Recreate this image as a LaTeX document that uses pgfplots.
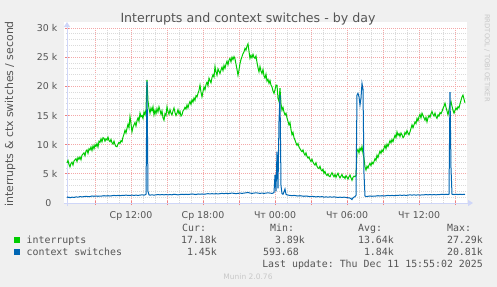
\documentclass[border=0pt]{standalone}
\usepackage{pgfplots}
\pgfplotsset{compat=1.18}
\usepackage{fontspec}
\setmainfont{DejaVu Sans}
\setmonofont{DejaVu Sans Mono}
\usetikzlibrary{arrows.meta}
\definecolor{bgc}{HTML}{F0F0F0}
\definecolor{fontc}{HTML}{555555}
\definecolor{axisc}{HTML}{CFD6F8}
\definecolor{mgrid}{HTML}{F4A8A8}
\definecolor{mtick}{HTML}{F08080}
\definecolor{gridc}{HTML}{DADADA}
\definecolor{cgreen}{HTML}{00CC00}
\definecolor{cblue}{HTML}{0066B3}
\definecolor{faint}{HTML}{C8C8C8}
\begin{document}
\begin{tikzpicture}
\fill[bgc] (0,0) rectangle (497bp,287bp);
\useasboundingbox (0,0) rectangle (497bp,287bp);
\fill[white] (64bp,83bp) rectangle (467bp,265bp);
\begin{axis}[
  at={(67bp,84bp)}, anchor=south west,
  scale only axis, width=400bp, height=175bp,
  xmin=67, xmax=467, ymin=0, ymax=30,
  axis x line=bottom, axis y line=left,
  x axis line style={draw=axisc, line width=1bp, -{Triangle[length=5bp,width=6bp]}, shorten >=-6bp, shorten <=-3bp},
  y axis line style={draw=axisc, line width=1bp, -{Triangle[length=5bp,width=6bp]}, shorten >=-6bp, shorten <=-3bp},
  xtick={95,131,...,455},
  xticklabels={,Ср 12:00,,Ср 18:00,,Чт 00:00,,Чт 06:00,,Чт 12:00,},
  minor x tick num=2,
  ytick={0,5,...,30},
  yticklabels={0\kern6bp,5 k,10 k,15 k,20 k,25 k,30 k},
  minor y tick num=4,
  grid=both,
  major grid style={draw=mgrid, dash pattern=on 1bp off 1bp, line width=0.7bp},
  minor grid style={draw=gridc, dash pattern=on 1bp off 1bp, line width=0.7bp},
  tick align=center, major tick length=4bp, minor tick length=2bp,
  major tick style={draw=mtick, line width=0.8bp},
  minor tick style={draw=gridc, line width=0.8bp},
  ticklabel style={font=\fontsize{9.4bp}{11bp}\selectfont, text=fontc, inner sep=0pt},
  xticklabel style={anchor=base, yshift=-13.5bp},
  yticklabel style={anchor=east, xshift=-7.5bp},
  scaled ticks=false,
  clip=false,
]
% interrupts (thousands per second), x = 5-minute pixel columns
\addplot[cgreen, line width=1bp] coordinates {
(67,6.9)(68,7.3)(69,6.6)(70,6.2)(71,6.8)(72,7.0)(73,6.5)(74,7.2)(75,7.4)(76,7.6)(77,7.1)(78,7.8)(79,7.5)(80,7.9)
(81,7.4)(82,8.2)(83,8.4)(84,8.6)(85,8.1)(86,8.9)(87,9.1)(88,8.5)(89,9.3)(90,9.1)(91,9.6)(92,9.0)(93,9.8)(94,9.3)(95,10.0)
(96,9.7)(97,10.2)(98,9.6)(99,10.6)(100,10.4)(101,11.0)(102,10.5)(103,11.2)(104,11.1)(105,10.6)(106,11.0)(107,10.8)
(108,11.3)(109,10.7)(110,10.5)(111,10.9)(112,10.3)(113,10.1)(114,10.6)(115,10.0)(116,9.7)(117,9.65)(118,10.1)(119,10.4)
(120,10.2)(121,10.7)(122,10.5)(123,11.3)(124,11.8)(125,12.5)(126,12.0)(127,12.8)(128,13.5)(129,12.9)(130,14.8)(131,13.6)
(132,12.2)(133,13.0)(134,13.4)(135,13.8)(136,13.2)(137,14.1)(138,14.6)(139,14.0)(140,15.4)(141,14.8)(142,15.0)(143,14.5)
(144,15.6)(145,15.1)(146,16.0)(147,21.1)(148,17.5)(149,16.2)(150,15.4)(151,16.3)(152,15.8)(153,16.5)(154,15.1)(155,15.9)
(156,15.3)(157,16.2)(158,15.6)(159,16.5)(160,15.9)(161,15.2)(162,15.8)(163,14.6)(164,14.2)(165,15.3)(166,15.0)(167,16.5)
(168,15.7)(169,15.2)(170,16.0)(171,15.4)(172,15.1)(173,15.8)(174,16.3)(175,15.5)(176,15.0)(177,15.4)(178,16.0)(179,15.3)
(180,15.7)(181,14.9)(182,15.1)(183,15.8)(184,16.0)(185,16.4)(186,16.1)(187,16.8)(188,16.3)(189,17.0)(190,17.4)(191,16.9)
(192,17.7)(193,17.3)(194,18.0)(195,17.6)(196,18.4)(197,18.2)(198,18.8)(199,19.3)(200,20.2)(201,19.0)(202,18.2)(203,19.1)
(204,19.9)(205,19.4)(206,20.3)(207,20.7)(208,20.1)(209,21.4)(210,21.0)(211,20.6)(212,21.5)(213,22.0)(214,21.6)(215,23.4)
(216,22.5)(217,21.9)(218,23.0)(219,22.6)(220,22.2)(221,22.8)(222,23.3)(223,22.7)(224,23.6)(225,23.1)(226,23.8)(227,24.3)
(228,23.7)(229,24.5)(230,24.8)(231,24.2)(232,25.0)(233,24.6)(234,25.1)(235,24.7)(236,23.8)(237,22.9)(238,21.9)(239,22.8)
(240,23.9)(241,24.6)(242,25.1)(243,25.6)(244,25.9)(245,26.5)(246,26.2)(247,26.9)(248,27.29)(249,26.0)(250,24.8)(251,25.3)
(252,24.9)(253,25.5)(254,25.0)(255,24.8)(256,25.2)(257,24.1)(258,23.2)(259,22.5)(260,23.4)(261,22.6)(262,22.2)(263,22.9)
(264,21.8)(265,21.4)(266,22.1)(267,20.9)(268,21.2)(269,20.5)(270,21.0)(271,20.2)(272,19.9)(273,19.2)(274,18.8)(275,19.4)
(276,20.2)(277,20.2)(278,18.0)(279,17.4)(280,19.7)(281,17.0)(282,15.9)(283,16.4)(284,15.6)(285,15.1)(286,15.4)(287,14.6)
(288,14.0)(289,13.4)(290,13.8)(291,12.6)(292,11.7)(293,12.1)(294,11.2)(295,10.8)(296,10.3)(297,9.9)(298,10.2)(299,9.6)
(300,9.3)(301,9.0)(302,8.8)(303,9.1)(304,8.5)(305,8.2)(306,8.6)(307,8.0)(308,7.7)(309,7.9)(310,7.4)(311,7.1)(312,7.5)
(313,7.0)(314,6.7)(315,6.5)(316,6.9)(317,6.3)(318,6.0)(319,5.9)(320,6.3)(321,5.7)(322,5.5)(323,5.8)(324,5.1)(325,5.4)
(326,4.9)(327,4.7)(328,5.0)(329,4.6)(330,4.5)(331,4.9)(332,5.2)(333,4.8)(334,4.5)(335,4.9)(336,4.4)(337,4.8)(338,5.1)
(339,4.6)(340,4.3)(341,4.6)(342,4.9)(343,4.4)(344,4.5)(345,4.2)(346,4.7)(347,4.4)(348,4.1)(349,4.5)(350,4.8)(351,4.3)
(352,3.89)(353,4.4)(354,4.6)(355,4.5)(356,4.7)(357,8.8)(358,9.2)(359,8.6)(360,9.4)(361,9.0)(362,9.7)(363,8.5)(364,7.65)
(365,6.2)(366,5.65)(367,6.3)(368,6.0)(369,6.5)(370,6.8)(371,6.4)(372,7.0)(373,6.7)(374,7.1)(375,7.6)(376,7.3)(377,8.2)
(378,7.8)(379,8.4)(380,8.9)(381,8.5)(382,9.1)(383,8.8)(384,9.4)(385,9.9)(386,9.3)(387,10.1)(388,9.7)(389,10.2)(390,10.7)
(391,10.3)(392,10.9)(393,10.5)(394,11.1)(395,11.6)(396,11.2)(397,12.2)(398,11.6)(399,11.9)(400,11.4)(401,12.0)(402,11.7)
(403,11.2)(404,11.4)(405,12.1)(406,11.8)(407,12.4)(408,12.0)(409,11.7)(410,12.2)(411,12.8)(412,13.4)(413,12.9)(414,13.4)
(415,13.9)(416,13.6)(417,14.5)(418,14.1)(419,14.8)(420,15.2)(421,14.6)(422,15.4)(423,15.0)(424,14.6)(425,14.2)(426,14.7)
(427,13.9)(428,14.6)(429,15.0)(430,14.7)(431,15.3)(432,15.7)(433,15.2)(434,14.9)(435,15.4)(436,14.8)(437,14.5)(438,15.1)
(439,14.9)(440,15.5)(441,15.3)(442,15.7)(443,16.2)(444,16.6)(445,17.1)(446,16.4)(447,15.8)(448,15.1)(449,16.0)(450,16.8)
(451,17.4)(452,16.6)(453,15.9)(454,15.4)(455,15.9)(456,16.3)(457,16.0)(458,16.5)(459,16.3)(460,17.0)(461,17.6)(462,18.2)
(463,18.5)(464,17.8)(465,17.18)
};
% context switches (thousands per second)
\addplot[cblue, line width=1bp] coordinates {
(67,1.05)(68,0.95)(69,1.0)(70,0.9)(72,1.0)(74,0.95)(76,1.05)(78,1.0)(80,1.1)(82,1.05)(84,1.1)(86,1.15)(88,1.1)(90,1.1)
(92,1.2)(94,1.15)(96,1.2)(98,1.15)(100,1.2)(102,1.2)(104,1.25)(106,1.2)(108,1.25)(110,1.2)(112,1.25)(114,1.3)(116,1.25)
(118,1.3)(120,1.25)(122,1.3)(124,1.3)(126,1.35)(128,1.3)(130,1.3)(132,1.35)(134,1.3)(136,1.35)(138,1.3)(140,1.35)
(142,1.4)(144,1.35)(145,1.4)(146,1.5)(147,20.81)(148,2.0)(149,1.4)(150,1.35)(152,1.4)(154,1.35)(156,1.4)(158,1.45)
(160,1.4)(162,1.45)(164,1.4)(166,1.45)(168,1.4)(170,1.45)(172,1.4)(174,1.5)(176,1.45)(178,1.4)(180,1.45)(182,1.5)
(184,1.45)(186,1.5)(188,1.45)(190,1.5)(192,1.55)(194,1.5)(196,1.45)(198,1.55)(200,1.5)(202,1.55)(204,1.5)(206,1.55)
(208,1.6)(210,1.55)(212,1.6)(214,1.55)(216,1.6)(218,1.55)(220,1.6)(222,1.65)(224,1.6)(226,1.65)(228,1.6)(230,1.65)
(232,1.7)(234,1.65)(236,1.6)(238,1.65)(240,1.7)(242,1.65)(244,1.7)(246,1.75)(248,1.8)(250,1.7)(252,1.65)(254,1.7)
(256,1.75)(258,1.7)(260,1.65)(262,1.7)(264,1.65)(266,1.7)(268,1.75)(270,1.7)(272,1.65)(273,1.7)(274,1.8)(275,4.8)
(276,2.0)(277,8.8)(278,2.5)(279,14.0)(280,18.5)(281,3.0)(282,1.6)(283,1.5)(284,1.9)(285,2.4)(286,1.5)(287,1.4)(288,1.35)
(290,1.3)(292,1.25)(294,1.3)(296,1.25)(298,1.2)(300,1.25)(302,1.2)(304,1.15)(306,1.2)(308,1.15)(310,1.1)(312,1.15)
(314,1.1)(316,1.05)(318,1.1)(320,1.05)(322,1.1)(324,1.0)(326,1.05)(328,1.0)(330,1.05)(332,1.0)(334,1.05)(336,1.0)
(338,0.95)(340,1.0)(342,0.95)(344,1.0)(346,0.95)(348,0.9)(350,0.85)(351,0.75)(352,0.59)(353,0.9)(354,1.0)(355,1.1)
(356,1.3)(357,18.5)(358,18.8)(359,18.2)(360,16.8)(361,18.0)(362,20.5)(363,19.5)(364,5.0)(365,1.2)(366,1.1)(368,1.15)
(370,1.2)(372,1.15)(374,1.2)(376,1.2)(378,1.25)(380,1.2)(382,1.25)(384,1.2)(386,1.25)(388,1.3)(390,1.25)(392,1.3)
(394,1.25)(396,1.3)(398,1.3)(400,1.35)(402,1.3)(404,1.35)(406,1.3)(408,1.35)(410,1.4)(412,1.35)(414,1.4)(416,1.35)
(418,1.4)(420,1.35)(422,1.4)(424,1.4)(426,1.45)(428,1.4)(430,1.45)(432,1.4)(434,1.45)(436,1.4)(438,1.45)(440,1.45)
(442,1.5)(444,1.45)(446,1.5)(448,1.45)(449,1.5)(450,19.0)(451,6.0)(452,1.5)(454,1.45)(456,1.5)(458,1.45)(460,1.5)
(462,1.45)(464,1.5)(465,1.45)
};
\end{axis}
% title and side texts
\node[text=fontc, font=\fontsize{12.6bp}{14bp}\selectfont] at (248bp,267.5bp) {Interrupts and context switches - by day};
\node[text=fontc, rotate=90, font=\fontsize{10.9bp}{12bp}\selectfont] at (10bp,173bp) {interrupts \& ctx switches / second};
\node[text=faint, rotate=-90, font=\fontsize{6.8bp}{8bp}\selectfont] at (487bp,229bp) {RRDTOOL / TOBI OETIKER};
% legend
\begin{scope}[every node/.style={text=fontc, font=\ttfamily\fontsize{9.9bp}{12bp}\selectfont, inner sep=0pt}]
\node[anchor=base west] at (182bp,55.5bp) {Cur:};
\node[anchor=base west] at (270bp,55.5bp) {Min:};
\node[anchor=base west] at (358bp,55.5bp) {Avg:};
\node[anchor=base west] at (447bp,55.5bp) {Max:};
\fill[cgreen] (14bp,44.3bp) rectangle (19.5bp,49.8bp);
\fill[cblue] (14bp,32.3bp) rectangle (19.5bp,37.8bp);
\node[anchor=base west] at (26.5bp,43.5bp) {interrupts};
\node[anchor=base west] at (26.5bp,31.5bp) {context switches};
\node[anchor=base east] at (217bp,43.5bp) {17.18k};
\node[anchor=base east] at (305bp,43.5bp) {3.89k};
\node[anchor=base east] at (394bp,43.5bp) {13.64k};
\node[anchor=base east] at (483bp,43.5bp) {27.29k};
\node[anchor=base east] at (217bp,31.5bp) {1.45k};
\node[anchor=base east] at (305bp,31.5bp) {593.68\phantom{k}};
\node[anchor=base east] at (394bp,31.5bp) {1.84k};
\node[anchor=base east] at (483bp,31.5bp) {20.81k};
\node[anchor=base east] at (483bp,19.5bp) {Last update: Thu Dec 11 15:55:02 2025};
\end{scope}
\node[text=faint, font=\fontsize{7.5bp}{9bp}\selectfont] at (248bp,10.5bp) {Munin 2.0.76};
\end{tikzpicture}
\end{document}
